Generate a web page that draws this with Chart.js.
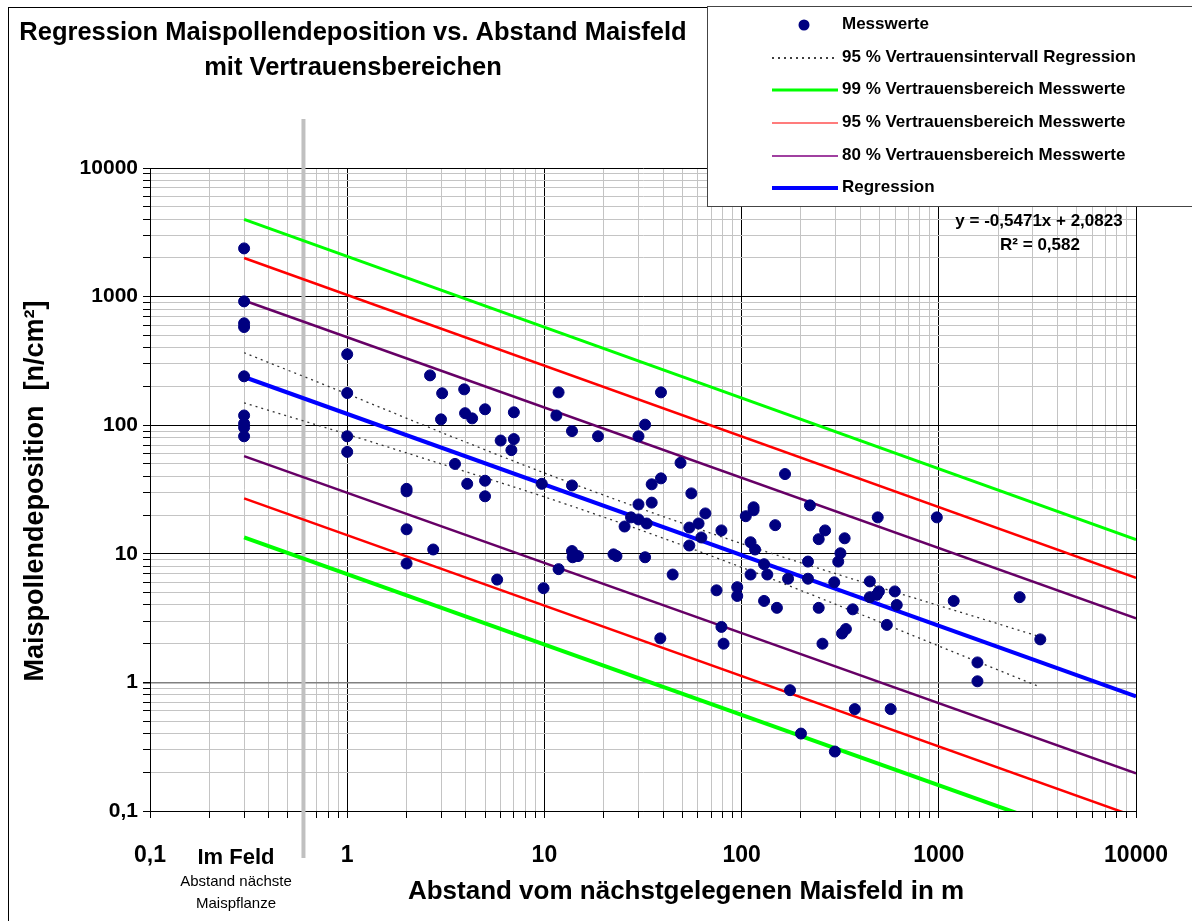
<!DOCTYPE html>
<html lang="de">
<head>
  <meta charset="UTF-8">
  <title>Regression Maispollendeposition</title>
  <style>
    html, body { margin: 0; padding: 0; background: #fff; }
    #wrap { width: 1192px; height: 921px; }
  </style>
</head>
<body>
  <div id="wrap"><canvas id="pollenChart" width="1192" height="921"></canvas></div>
  <script src="https://cdn.jsdelivr.net/npm/chart.js"></script>
  <script>
    const messX = [
      0.3, 0.3, 0.3, 0.3, 0.3, 0.3, 0.3, 0.3, 0.3,
      1, 1, 1, 1,
      2, 2, 2, 2, 2.63, 2.73, 2.99, 3.03, 3.52, 3.92, 3.96, 4.06, 4.3,
      5, 5, 5, 5.76, 6, 6.8, 7, 7, 9.7, 9.9, 11.5, 11.8, 11.8,
      13.8, 13.8, 13.8, 13.9, 14.8, 18.7, 22.4, 23.2, 25.5, 27.5,
      30, 30, 30, 32.4, 32.4, 33, 35, 35, 38.7, 39, 39, 44.7, 49,
      54.3, 54.3, 55.6, 60.5, 62.5, 65.5, 74.6, 79, 79, 81, 95, 95,
      105, 111, 111, 115, 115, 117, 130, 130, 135, 148, 151, 166, 172, 176,
      200, 217, 217, 222, 246, 246, 257, 265, 295, 297, 309, 317, 323, 333, 338,
      366, 375, 447, 447, 485, 490, 497, 545, 570, 598, 612,
      977, 1190, 1570, 1570, 2570, 3270
    ]
    const messY = [
      2370, 918, 620, 580, 240, 119, 103, 96, 82,
      356, 178, 82, 62,
      32, 30.6, 15.5, 8.4, 244, 10.8, 111, 177, 50, 190, 124, 35, 113,
      133, 37, 28, 6.3, 76, 64, 126, 78, 35, 5.4, 119, 180, 7.6,
      90, 34, 10.5, 9.4, 9.6, 82, 9.9, 9.6, 16.3, 19.2,
      82, 24.2, 18.5, 101, 9.4, 17.2, 34.7, 25, 2.2, 180, 38.6, 6.9, 51,
      16, 11.6, 29.5, 17.2, 13.4, 20.6, 5.2, 15.2, 2.7, 2.0, 5.5, 4.7,
      19.6, 12.3, 6.9, 23, 21.8, 10.8, 8.3, 4.3, 6.9, 16.7, 3.8, 41.7, 6.4, 0.87,
      0.40, 8.7, 6.4, 23.8, 13, 3.8, 2.0, 15.2, 6.0, 0.29, 8.7, 10.1, 2.4, 13.2, 2.6,
      3.7, 0.62, 6.1, 4.6, 4.8, 19.2, 5.1, 2.8, 0.62, 5.1, 4.0,
      19.2, 4.3, 1.43, 1.02, 4.6, 2.16
    ]

    // Vertrauensintervall der Regression (gepunktet)
    const ciX = [0.3, 1, 3, 10, 30, 100, 300, 1000, 3160]
    const ciUpper = [366, 175, 88, 42.5, 22.8, 12.0, 7.0, 3.96, 2.3]
    const ciLower = [149, 85, 50, 27.7, 15.5, 7.85, 4.05, 1.92, 0.94]

    // Geraden (Endpunkte bei 0,3 m und 10000 m)
    const lineX = [0.3, 10000]
    const regression = [237, 0.78]
    const upper99 = [3980, 12.9]
    const upper95 = [1995, 6.5]
    const upper80 = [933, 3.15]
    const lower80 = [57.5, 0.196]
    const lower95 = [27, 0.09]
    const lower99 = [13.4, 0.045]

    // Dekaden der beiden Achsen, Zwischenlinien bei 2..9
    const xTicks = [0.1, 1, 10, 100, 1000, 10000]
    const yTicks = [0.1, 1, 10, 100, 1000, 10000]
    const minorSteps = [1, 2, 3, 4, 5, 6, 7, 8, 9]
    const fieldEdge = 0.6

    const FONT = "'Liberation Sans', Arial, Helvetica, sans-serif"

    function toPoints(xs, ys) {
      return xs.map((x, i) => ({ x: x, y: ys[i] }))
    }

    function isDecade(v) {
      const l = Math.log10(v)
      return Math.abs(l - Math.round(l)) < 1e-6
    }

    function tickLabel(v) {
      if (!isDecade(v)) return ''
      return v < 1 ? String(v).replace('.', ',') : String(Math.round(v))
    }

    function logTicks(decades) {
      const out = []
      for (let i = 0; i < decades.length - 1; i++) {
        minorSteps.forEach(m => out.push({ value: +(m * decades[i]).toPrecision(6) }))
      }
      out.push({ value: decades[decades.length - 1] })
      return out
    }

    function bandLine(label, ys, color, width) {
      return {
        type: 'line',
        label: label,
        data: toPoints(lineX, ys),
        borderColor: color,
        borderWidth: width,
        pointRadius: 0,
        fill: false,
        tension: 0
      }
    }

    const datasets = [
      {
        type: 'scatter',
        label: 'Messwerte',
        data: toPoints(messX, messY),
        backgroundColor: '#000080',
        borderColor: '#000080',
        pointRadius: 5.5,
        pointHoverRadius: 5.5
      },
      bandLine('Regression', regression, '#0000ff', 4),
      {
        type: 'line',
        label: '95 % Vertrauensintervall Regression',
        data: toPoints(ciX, ciUpper),
        borderColor: '#333333',
        borderWidth: 1.3,
        borderDash: [2, 4],
        pointRadius: 0,
        tension: 0.3
      },
      {
        type: 'line',
        label: '95 % Vertrauensintervall Regression (unten)',
        data: toPoints(ciX, ciLower),
        borderColor: '#333333',
        borderWidth: 1.3,
        borderDash: [2, 4],
        pointRadius: 0,
        tension: 0.3
      },
      bandLine('80 % Vertrauensbereich Messwerte', upper80, '#660066', 2.5),
      bandLine('80 % unten', lower80, '#660066', 2.5),
      bandLine('95 % Vertrauensbereich Messwerte', upper95, '#ff0000', 2.5),
      bandLine('95 % unten', lower95, '#ff0000', 2.5),
      bandLine('99 % Vertrauensbereich Messwerte', upper99, '#00ff00', 3),
      bandLine('99 % unten', lower99, '#00ff00', 4)
    ]

    const legendItems = [
      { text: 'Messwerte', kind: 'dot', color: '#000080' },
      { text: '95 % Vertrauensintervall Regression', kind: 'dash', color: '#000000', width: 1.5 },
      { text: '99 % Vertrauensbereich Messwerte', kind: 'line', color: '#00ff00', width: 3 },
      { text: '95 % Vertrauensbereich Messwerte', kind: 'line', color: '#ff5050', width: 1.5 },
      { text: '80 % Vertrauensbereich Messwerte', kind: 'line', color: '#800080', width: 1.5 },
      { text: 'Regression', kind: 'line', color: '#0000ff', width: 4 }
    ]

    // Rahmen, Titel, Achsentitel, Legende und Gleichung
    const decorations = {
      id: 'decorations',
      beforeDraw(chart) {
        const ctx = chart.ctx
        ctx.save()
        ctx.fillStyle = '#fff'
        ctx.fillRect(0, 0, chart.width, chart.height)
        ctx.strokeStyle = '#000'
        ctx.lineWidth = 1
        ctx.strokeRect(8.5, 7.5, 1400, 1000)
        ctx.restore()
      },
      beforeDatasetsDraw(chart) {
        const ctx = chart.ctx
        const px = chart.scales.x.getPixelForValue(fieldEdge)
        ctx.save()
        ctx.strokeStyle = '#c0c0c0'
        ctx.lineWidth = 4
        ctx.beginPath()
        ctx.moveTo(px, 119)
        ctx.lineTo(px, 858)
        ctx.stroke()
        ctx.restore()
      },
      afterDraw(chart) {
        const ctx = chart.ctx
        ctx.save()
        ctx.fillStyle = '#000'
        ctx.textAlign = 'center'
        ctx.textBaseline = 'middle'

        ctx.font = 'bold 25.5px ' + FONT
        ctx.fillText('Regression Maispollendeposition vs. Abstand Maisfeld', 353, 33)
        ctx.fillText('mit Vertrauensbereichen', 353, 68)

        ctx.font = 'bold 26px ' + FONT
        ctx.fillText('Abstand vom nächstgelegenen Maisfeld in m', 686, 892)

        ctx.save()
        ctx.translate(36, 491)
        ctx.rotate(-Math.PI / 2)
        ctx.font = 'bold 27px ' + FONT
        ctx.fillText('Maispollendeposition  [n/cm²]', 0, 0)
        ctx.restore()

        ctx.font = 'bold 22px ' + FONT
        ctx.fillText('Im Feld', 236, 858)
        ctx.font = '15px ' + FONT
        ctx.fillText('Abstand nächste', 236, 882)
        ctx.fillText('Maispflanze', 236, 904)

        ctx.font = 'bold 17px ' + FONT
        ctx.fillText('y = -0,5471x + 2,0823', 1039, 221)
        ctx.fillText('R² = 0,582', 1040, 245)

        // Legende
        ctx.fillStyle = '#fff'
        ctx.fillRect(707, 6, 600, 200)
        ctx.strokeStyle = '#444'
        ctx.lineWidth = 1
        ctx.strokeRect(707.5, 6.5, 600, 200)
        const rowY = [24, 57, 89, 122, 155, 187]
        ctx.textAlign = 'left'
        ctx.font = 'bold 17px ' + FONT
        legendItems.forEach((item, i) => {
          const y = rowY[i]
          if (item.kind === 'dot') {
            ctx.fillStyle = item.color
            ctx.beginPath()
            ctx.arc(804, y + 1, 5.5, 0, Math.PI * 2)
            ctx.fill()
          } else {
            ctx.strokeStyle = item.color
            ctx.lineWidth = item.width
            ctx.setLineDash(item.kind === 'dash' ? [2, 4] : [])
            ctx.beginPath()
            ctx.moveTo(772, y + 1)
            ctx.lineTo(838, y + 1)
            ctx.stroke()
            ctx.setLineDash([])
          }
          ctx.fillStyle = '#000'
          ctx.fillText(item.text, 842, y)
        })
        ctx.restore()
      }
    }

    function gridColor(c, axis) {
      const v = c.tick && c.tick.value
      if (v === undefined) return '#c0c0c0'
      if (axis === 'y' && Math.abs(v - 1) < 1e-9) return '#808080'
      return isDecade(v) ? '#000000' : '#c4c4c4'
    }

    new Chart(document.getElementById('pollenChart'), {
      type: 'scatter',
      data: { datasets: datasets },
      plugins: [decorations],
      options: {
        responsive: false,
        animation: false,
        events: [],
        layout: { padding: { left: 0, top: 168, right: 53, bottom: 0 } },
        plugins: {
          legend: { display: false },
          title: { display: false },
          tooltip: { enabled: false }
        },
        scales: {
          x: {
            type: 'logarithmic',
            min: xTicks[0],
            max: xTicks[xTicks.length - 1],
            afterBuildTicks(scale) { scale.ticks = logTicks(xTicks) },
            afterFit(scale) { scale.height = 110 },
            border: { color: '#000', width: 1 },
            grid: {
              color: c => gridColor(c, 'x'),
              lineWidth: 1,
              tickColor: '#000',
              tickLength: 7
            },
            ticks: {
              autoSkip: false,
              maxRotation: 0,
              padding: 24,
              color: '#000',
              font: { family: FONT, size: 23, weight: 'bold' },
              callback: v => tickLabel(v)
            }
          },
          y: {
            type: 'logarithmic',
            min: yTicks[0],
            max: yTicks[yTicks.length - 1],
            afterBuildTicks(scale) { scale.ticks = logTicks(yTicks) },
            afterFit(scale) { scale.width = 150 },
            border: { color: '#000', width: 1 },
            grid: {
              color: c => gridColor(c, 'y'),
              lineWidth: c => (c.tick && Math.abs(c.tick.value - 1) < 1e-9) ? 1.5 : 1,
              tickColor: '#000',
              tickLength: 7
            },
            ticks: {
              autoSkip: false,
              padding: 5,
              color: '#000',
              font: { family: FONT, size: 21, weight: 'bold' },
              callback: v => tickLabel(v)
            }
          }
        }
      }
    })
  </script>
</body>
</html>
